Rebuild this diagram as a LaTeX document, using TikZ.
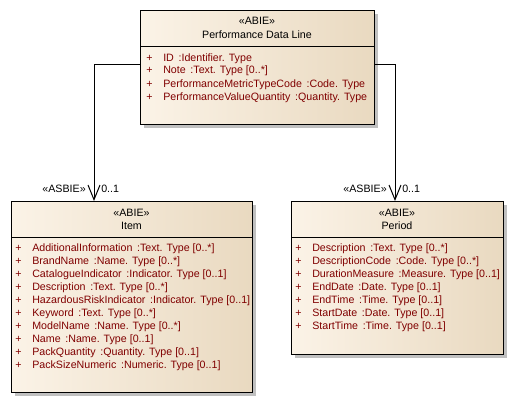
\documentclass[tikz,border=0pt]{standalone}
\usepackage{fontspec}
\setmainfont{Liberation Sans}
\usetikzlibrary{arrows.meta,shadows}
\definecolor{attrred}{RGB}{128,0,0}
\definecolor{fillL}{RGB}{251,243,231}
\definecolor{fillR}{RGB}{233,217,192}
\definecolor{shad}{RGB}{192,192,192}
\newcommand\attrgap{\hspace{3.5pt}}
\tikzset{
  umlbox/.style={draw=black, line width=0.85pt, left color=fillL, right color=fillR,
    anchor=north west, inner sep=0pt,
    drop shadow={shadow xshift=2.6pt, shadow yshift=-2.6pt, fill=shad, opacity=1}},
  sepline/.style={draw=black, line width=0.75pt},
  ttl/.style={anchor=base, inner sep=0pt, font=\fontsize{8pt}{9pt}\selectfont, text=black},
  attr/.style={anchor=base west, inner sep=0pt, font=\fontsize{8pt}{9pt}\selectfont, text=attrred},
  lbl/.style={inner sep=0pt, font=\fontsize{8pt}{9pt}\selectfont, text=black},
  conn/.style={draw=black, line width=0.75pt, -{Straight Barb[length=11pt,width=9pt,line width=0.75pt]}},
}
\begin{document}
\begin{tikzpicture}[x=0.75pt,y=-0.75pt]
\useasboundingbox (0,0) rectangle (513,403);
\fill[white] (0,0) rectangle (513,403);

% boxes
\node[umlbox, minimum width=175.5pt, minimum height=85.5pt] (top) at (140,10) {};
\node[umlbox, minimum width=180.75pt, minimum height=143.25pt] (item) at (11,201) {};
\node[umlbox, minimum width=159pt, minimum height=114.75pt] (period) at (291,201) {};

% header separators
\draw[sepline] ([yshift=-27.75pt]top.north west) -- ([yshift=-27.75pt]top.north east);
\draw[sepline] ([yshift=-27pt]item.north west) -- ([yshift=-27pt]item.north east);
\draw[sepline] ([yshift=-27pt]period.north west) -- ([yshift=-27pt]period.north east);

% titles
\node[ttl] (topst) at (257,25) {«ABIE»};
\node[ttl] (topnm) at (257,39) {Performance Data Line};
\node[ttl] (itemst) at (131.5,216) {«ABIE»};
\node[ttl] (itemnm) at (131.5,229) {Item};
\node[ttl] (perst) at (397,216) {«ABIE»};
\node[ttl] (pernm) at (397,229) {Period};

% top attributes
\foreach \n/\t [count=\i from 0] in {
  {ID}/{Identifier. Type},
  {Note}/{Text. Type [0..*]},
  {PerformanceMetricTypeCode}/{Code. Type},
  {PerformanceValueQuantity}/{Quantity. Type}} {
  \node[attr] (tp\i) at (146,61+13*\i) {+};
  \node[attr] (ta\i) at (163,61+13*\i) {\n\attrgap:\t};
}

% item attributes
\foreach \n/\t [count=\i from 0] in {
  {AdditionalInformation}/{Text. Type [0..*]},
  {BrandName}/{Name. Type [0..*]},
  {CatalogueIndicator}/{Indicator. Type [0..1]},
  {Description}/{Text. Type [0..*]},
  {HazardousRiskIndicator}/{Indicator. Type [0..1]},
  {Keyword}/{Text. Type [0..*]},
  {ModelName}/{Name. Type [0..*]},
  {Name}/{Name. Type [0..1]},
  {PackQuantity}/{Quantity. Type [0..1]},
  {PackSizeNumeric}/{Numeric. Type [0..1]}} {
  \node[attr] (ip\i) at (15,251+13*\i) {+};
  \node[attr] (ia\i) at (32,251+13*\i) {\n\attrgap:\t};
}

% period attributes
\foreach \n/\t [count=\i from 0] in {
  {Description}/{Text. Type [0..*]},
  {DescriptionCode}/{Code. Type [0..*]},
  {DurationMeasure}/{Measure. Type [0..1]},
  {EndDate}/{Date. Type [0..1]},
  {EndTime}/{Time. Type [0..1]},
  {StartDate}/{Date. Type [0..1]},
  {StartTime}/{Time. Type [0..1]}} {
  \node[attr] (pp\i) at (295,251+13*\i) {+};
  \node[attr] (pa\i) at (312,251+13*\i) {\n\attrgap:\t};
}

% connectors
\coordinate (bendL) at (94,65);
\coordinate (bendR) at (395,65);
\draw[conn] (top.west |- bendL) -- (bendL) -- (bendL |- item.north);
\draw[conn] (top.east |- bendR) -- (bendR) -- (bendR |- period.north);

% role labels
\node[lbl, anchor=base east] (asbL) at (86,192) {«ASBIE»};
\node[lbl, anchor=base west] (mulL) at (101,192) {0..1};
\node[lbl, anchor=base east] (asbR) at (387,192) {«ASBIE»};
\node[lbl, anchor=base west] (mulR) at (402,192) {0..1};
\end{tikzpicture}
\end{document}
